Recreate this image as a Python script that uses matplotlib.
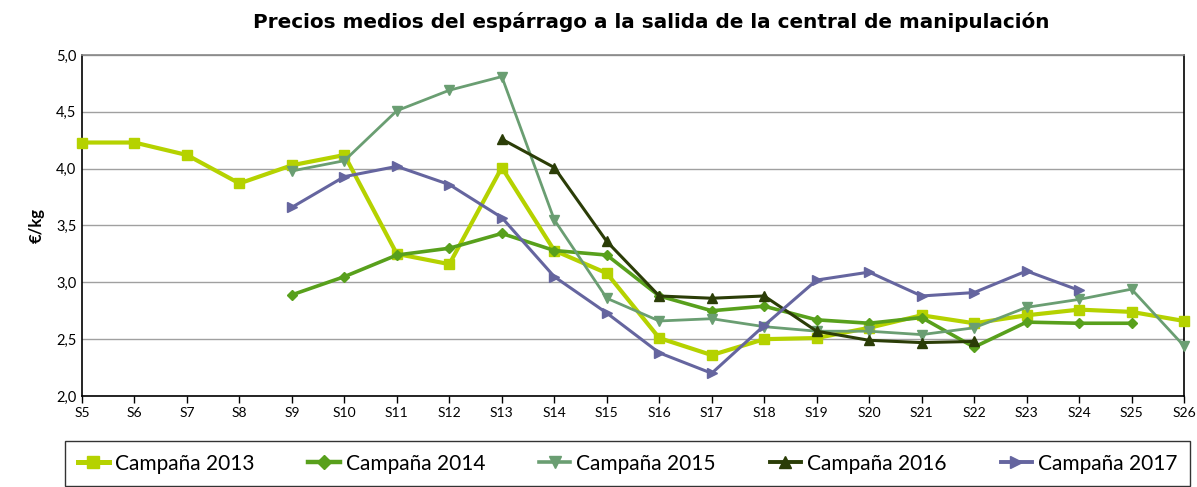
import numpy as np
import matplotlib
matplotlib.use('Agg')
import matplotlib.pyplot as plt
from matplotlib.lines import Line2D

plt.rcParams['font.family'] = ['Lato', 'DejaVu Sans']

semanas = [f'S{i}' for i in range(5, 27)]

# precios (€/kg) por semana, desde la primera semana de cada campaña
c2013 = [4.23, 4.23, 4.12, 3.87, 4.03, 4.12, 3.25, 3.16, 4.01, 3.28, 3.08,
         2.51, 2.36, 2.50, 2.51, 2.60, 2.71, 2.64, 2.71, 2.76, 2.74, 2.66]
c2014 = [2.89, 3.05, 3.24, 3.30, 3.43, 3.28, 3.24, 2.88, 2.75, 2.79, 2.67,
         2.64, 2.69, 2.43, 2.65, 2.64, 2.64]
c2015 = [3.98, 4.07, 4.51, 4.69, 4.81, 3.55, 2.86, 2.66, 2.68, 2.61, 2.57,
         2.57, 2.54, 2.60, 2.78, 2.85, 2.94, 2.44]
c2016 = [4.26, 4.01, 3.36, 2.88, 2.86, 2.88, 2.57, 2.49, 2.47, 2.48]
c2017 = [3.66, 3.93, 4.02, 3.86, 3.57, 3.05, 2.73, 2.38, 2.20, 2.62, 3.02,
         3.09, 2.88, 2.91, 3.10, 2.93]

series = [
    ('Campaña 2013', 'S5', c2013, '#b5d200', 's', 3.0, 7),
    ('Campaña 2014', 'S9', c2014, '#58a01c', 'D', 2.6, 5),
    ('Campaña 2015', 'S9', c2015, '#6a9e72', 'v', 2.0, 7),
    ('Campaña 2016', 'S13', c2016, '#2b3d07', '^', 2.2, 7),
    ('Campaña 2017', 'S9', c2017, '#65659f', '>', 2.2, 7),
]

fig = plt.figure(figsize=(11.97, 4.87), dpi=100)
ax = fig.add_axes([82 / 1197, 1 - 396 / 487, (1184 - 82) / 1197, (396 - 55) / 487])

x_all = np.arange(len(semanas))
handles = []
for name, start, vals, col, mk, lw, ms in series:
    i0 = semanas.index(start)
    x = x_all[i0:i0 + len(vals)]
    ax.plot(x, vals, color=col, lw=lw, marker=mk, ms=ms, mec=col, mfc=col,
            clip_on=False, zorder=3)
    handles.append(Line2D([], [], color=col, lw=lw + 0.6, marker=mk, ms=ms + 2, mec=col, mfc=col))

ax.set_xlim(0, len(semanas) - 1)
ax.set_ylim(2.0, 5.0)
ax.set_xticks(x_all)
ax.set_xticklabels(semanas, fontsize=10)
yt = np.arange(2.0, 5.01, 0.5)
ax.set_yticks(yt)
ax.set_yticklabels([f'{v:.1f}'.replace('.', ',') for v in yt], fontsize=10.5)
ax.yaxis.grid(True, color='#a0a0a0', lw=1)
ax.set_axisbelow(True)
ax.tick_params(axis='x', length=5, width=1, color='black', pad=3)
ax.tick_params(axis='y', length=0, pad=4)
ax.spines['left'].set_color('black')
ax.spines['bottom'].set_color('black')
ax.spines['right'].set_color('black')
ax.spines['top'].set_color('#888888')
for s in ax.spines.values():
    s.set_linewidth(1.2)

ax.set_ylabel('€/kg', fontsize=12, fontweight='bold', labelpad=8)
fig.text(651 / 1197, 1 - 22 / 487, 'Precios medios del espárrago a la salida de la central de manipulación',
         ha='center', va='center', fontsize=14.4, fontweight='bold', family='DejaVu Sans')

leg = fig.legend(handles, [s[0] for s in series], ncol=5, loc='upper left',
                 bbox_to_anchor=(65 / 1197, 1 - 441 / 487, 1125 / 1197, 0.0),
                 mode='expand', fontsize=15, frameon=True,
                 fancybox=False, edgecolor='black', handlelength=1.5,
                 handletextpad=0.3, borderpad=0.6, borderaxespad=0)
leg.get_frame().set_linewidth(1.0)

fig.savefig('out.png', dpi=100)
